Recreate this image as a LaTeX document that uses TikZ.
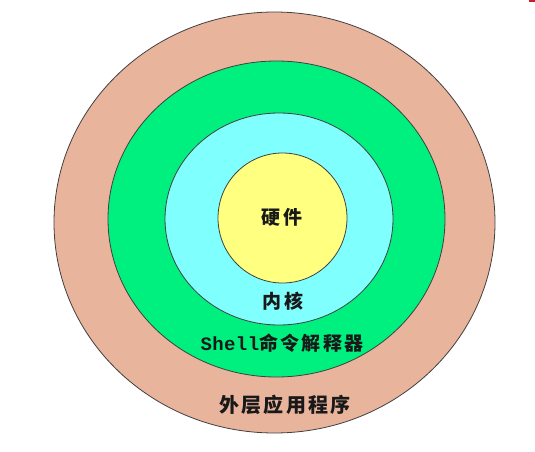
\documentclass[tikz,border=0pt]{standalone}
\usepackage{fontspec}
\newfontfamily\cjk{Noto Sans CJK SC}[LetterSpace=12]
\newfontfamily\shellmono{Liberation Mono}[LetterSpace=2]
\definecolor{appring}{RGB}{232,180,156}
\definecolor{shellring}{RGB}{0,240,128}
\definecolor{kernelring}{RGB}{128,255,255}
\definecolor{hwcore}{RGB}{255,255,128}
\definecolor{corner}{RGB}{200,30,40}
\tikzset{
  ring/.style={draw=black!75, line width=0.8pt},
  layertext/.style={inner sep=0pt, text=black!90,
    font=\cjk\bfseries\fontsize{19}{19}\selectfont}
}

\begin{document}
\begin{tikzpicture}[x=1pt, y=-1pt]

    % Fix the page to the picture size
    \useasboundingbox (0, 0) rectangle (535, 452);

    % Small red mark in the corner
    \fill[corner] (529, 0) rectangle (535, 2);

    % Draw rings, outermost first
    \foreach \cx/\cy/\rx/\ry/\col in {
      274.5/222.5/220.5/210.5/appring,
      276.5/219/168.5/158/shellring,
      279/219/114/106/kernelring,
      282.5/218/64.5/65/hwcore}{
      \filldraw[ring, fill=\col] (\cx, \cy) ellipse (\rx pt and \ry pt);
    }

    % Labels of the layers
    \node[layertext] (hw) at (282, 217) {硬件};
    \node[layertext] (kernel) at (283, 301) {内核};
    \node[layertext] (shell) at (282, 343)
      {{\shellmono\fontsize{19}{19}\selectfont Shell}命令解释器};
    \node[layertext, font=\cjk\bfseries\fontsize{20}{20}\selectfont]
      (apps) at (285, 405) {外层应用程序};

  \end{tikzpicture}
\end{document}
